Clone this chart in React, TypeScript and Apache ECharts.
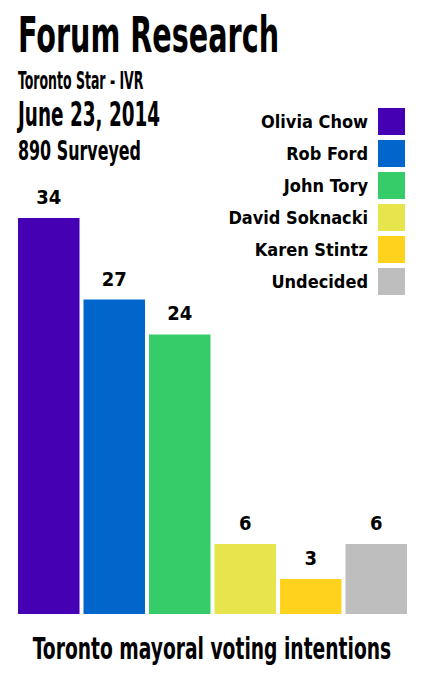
import React, { useEffect, useRef } from "react";
import * as echarts from "echarts";

const candidates = ["Olivia Chow", "Rob Ford", "John Tory", "David Soknacki", "Karen Stintz", "Undecided"];
const values = [34, 27, 24, 6, 3, 6];
const colors = ["#4600b4", "#0066cc", "#36cc6a", "#e6e64c", "#ffd21e", "#bebebe"];

const FONT = "'DejaVu Sans Condensed', 'Liberation Sans Narrow', sans-serif";

export default function App() {
  const ref = useRef<HTMLDivElement>(null);
  useEffect(() => {
    const chart = echarts.init(ref.current!, null, { renderer: "svg" });
    const txt = (text: string, x: number, y: number, size: number, sx: number, align = "left") => ({
      type: "text",
      x,
      y,
      scaleX: sx,
      style: {
        text,
        fontFamily: FONT,
        fontWeight: "bold",
        fontSize: size,
        fill: "#000",
        align,
        verticalAlign: "top",
      },
    });
    chart.setOption({
      animation: false,
      backgroundColor: "#fff",
      grid: { left: 18, right: 18, top: 218, bottom: 67 },
      xAxis: { type: "category", data: [""], show: false },
      yAxis: { type: "value", min: 0, max: 34, show: false },
      legend: {
        orient: "vertical",
        right: 15,
        top: 103,
        align: "right",
        itemWidth: 27,
        itemHeight: 27,
        itemGap: 5,
        icon: "rect",
        data: candidates,
        textStyle: { fontFamily: FONT, fontWeight: "bold", fontSize: 18, color: "#000", padding: [0, 5, 0, 0] },
      },
      graphic: [
        txt("Forum Research", 18, 11, 49, 0.65),
        txt("Toronto Star - IVR", 18, 69, 24, 0.58),
        txt("June 23, 2014", 18, 98, 33, 0.62),
        txt("890 Surveyed", 18, 138, 26, 0.68),
        txt("Toronto mayoral voting intentions", 212, 633, 31, 0.67, "center"),
      ],
      series: candidates.map((name, i) => ({
        name,
        type: "bar",
        data: [values[i]],
        barGap: "6.5%",
        barCategoryGap: "0%",
        itemStyle: { color: colors[i] },
        label: {
          show: true,
          position: "top",
          distance: 11,
          fontFamily: FONT,
          fontWeight: "bold",
          fontSize: 20,
          color: "#000",
        },
      })),
    });
    return () => chart.dispose();
  }, []);
  return <div ref={ref} style={{ position: "absolute", left: 0, top: 0, width: 425, height: 681 }} />;
}
